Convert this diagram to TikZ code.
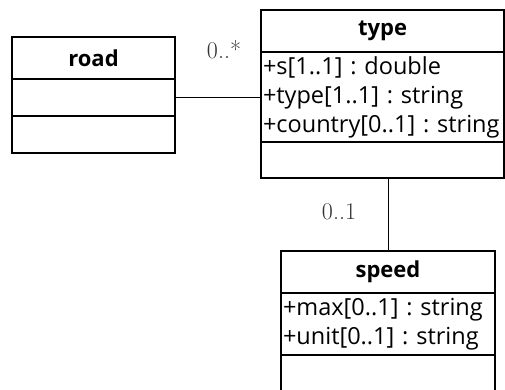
\documentclass[tikz,border=0pt]{standalone}
\usepackage{fontspec}
\newfontfamily\umlfont{Open Sans}
\usetikzlibrary{positioning}

\tikzset{
  x=1pt, y=1pt,
  umlbox/.style={draw, line width=1.6pt, outer sep=0pt, inner sep=0pt},
  classname/.style={umlbox, minimum height=42pt, anchor=north west,
    font=\umlfont\bfseries\fontsize{22}{24}\selectfont},
  classbody/.style={umlbox, inner xsep=2pt, align=left,
    font=\umlfont\frenchspacing\fontsize{23.5}{29}\selectfont},
  assoc/.style={line width=1pt},
  mult/.style={text=black!80, font=\fontsize{24}{26}\selectfont}
}

\begin{document}
\begin{tikzpicture}
  \useasboundingbox (0,0) rectangle (505,-390);

  % road
  \node[classname, minimum width=163pt] (road) at (12,-37) {road};
  \node[classbody, minimum width=163pt, minimum height=37pt, below=0pt of road] (road-attr) {};
  \node[classbody, minimum width=163pt, minimum height=37pt, below=0pt of road-attr] (road-ops) {};

  % type
  \node[classname, minimum width=243pt] (type) at (261,-10) {type};
  \node[classbody, text width=239pt, minimum height=90pt, below=0pt of type] (type-attr) {%
    +s[1..1] : double\\+type[1..1] : string\\+country[0..1] : string};
  \node[classbody, minimum width=243pt, minimum height=36pt, below=0pt of type-attr] (type-ops) {};

  % speed
  \node[classname, minimum width=214pt] (speed) at (281,-251) {speed};
  \node[classbody, text width=210pt, minimum height=62pt, below=0pt of speed] (speed-attr) {%
    +max[0..1] : string\\+unit[0..1] : string};
  \node[classbody, minimum width=214pt, minimum height=40pt, below=0pt of speed-attr] (speed-ops) {};

  % associations
  \draw[assoc] (road-attr.east) -- (road-attr.east -| type-attr.west);
  \draw[assoc] (type-ops.south -| speed.north) -- (speed.north);

  \node[mult] (road-mult) at (224,-50) {0..*};
  \node[mult] (speed-mult) at (339,-212) {0..1};
\end{tikzpicture}
\end{document}
